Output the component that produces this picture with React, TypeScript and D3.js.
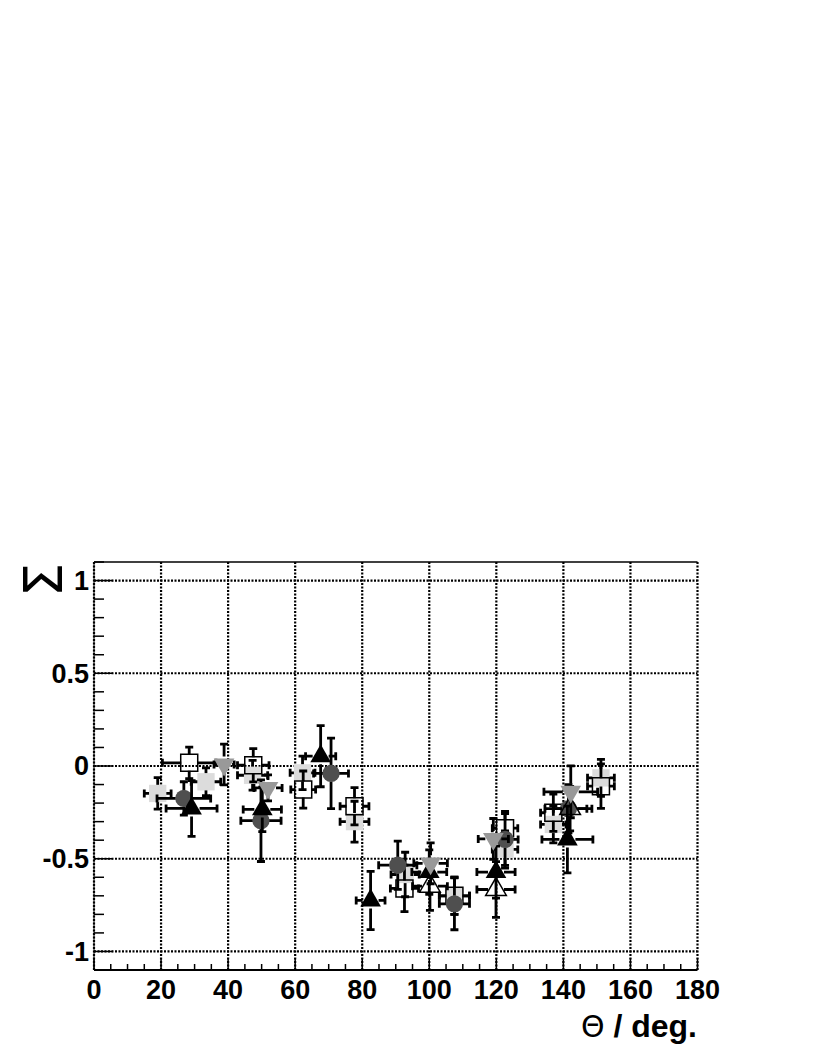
import React from "react";
import * as d3 from "d3";

// data: angle (deg), value, x error (deg), y error
const openSquareAngle = [28.4, 47.5, 62.4, 77.7, 92.6, 107.5, 122.6, 137.0, 151.2];
const openSquareValue = [0.017, 0.004, -0.127, -0.217, -0.66, -0.7, -0.335, -0.252, -0.109];
const openSquareXErr = [8, 4.7, 3.7, 4.3, 4.2, 4.5, 3.8, 3.8, 4];
const openSquareYErr = [0.085, 0.09, 0.1, 0.1, 0.125, 0.1, 0.09, 0.1, 0.12];

const lightSquareAngle = [19.0, 33.4, 47.3, 62.2, 77.7, 92.8, 107.5, 122.6, 137.0, 151.2];
const lightSquareValue = [-0.148, -0.085, -0.05, -0.037, -0.3, -0.585, -0.7, -0.45, -0.315, -0.064];
const lightSquareXErr = [4, 4.4, 4.5, 3.7, 4.3, 4.2, 4.5, 3.8, 3.8, 4];
const lightSquareYErr = [0.085, 0.075, 0.08, 0.09, 0.11, 0.12, 0.1, 0.1, 0.1, 0.1];

const circleAngle = [26.8, 49.8, 70.7, 90.6, 107.5, 122.6, 141.5];
const circleValue = [-0.175, -0.295, -0.04, -0.535, -0.743, -0.396, -0.23];
const circleXErr = [8, 6, 5.2, 5.7, 4.5, 3.9, 7];
const circleYErr = [0.09, 0.22, 0.19, 0.13, 0.14, 0.14, 0.13];

const triAngle = [29.1, 50.2, 67.6, 82.5, 100.0, 119.9, 141.2];
const triValue = [-0.229, -0.234, 0.053, -0.725, -0.572, -0.572, -0.396];
const triXErr = [7.6, 5.7, 4.5, 4.3, 5.2, 5.7, 7.6];
const triYErr = [0.15, 0.12, 0.165, 0.157, 0.12, 0.14, 0.18];

const openTriAngle = [100.2, 119.9, 142.0];
const openTriValue = [-0.648, -0.666, -0.23];
const openTriXErr = [5.2, 5.7, 5];
const openTriYErr = [0.13, 0.15, 0.12];

const invTriAngle = [38.8, 51.9, 100.4, 119.1, 142.2];
const invTriValue = [0.008, -0.118, -0.525, -0.393, -0.139];
const invTriXErr = [3, 4.2, 5, 4.5, 8];
const invTriYErr = [0.11, 0.07, 0.11, 0.11, 0.14];

const xTicks = [0, 20, 40, 60, 80, 100, 120, 140, 160, 180];
const yTicks = [-1, -0.5, 0, 0.5, 1];
const yTickLabels = ["-1", "-0.5", "0", "0.5", "1"];

const W = 814;
const H = 1053;
const left = 94, right = 697.5, top = 562, bottom = 970;

const x = d3.scaleLinear().domain([0, 180]).range([left, right]);
const y = d3.scaleLinear().domain([-1.1, 1.1]).range([bottom, top]);

const font = "'Liberation Sans', Arial, Helvetica, sans-serif";

type Series = {
  a: number[]; v: number[]; ex: number[]; ey: number[];
  shape: d3.SymbolType; size: number; fill: string; stroke: string; rot?: number;
};

const series: Series[] = [
  { a: lightSquareAngle, v: lightSquareValue, ex: lightSquareXErr, ey: lightSquareYErr, shape: d3.symbolSquare, size: 300, fill: "#dcdcdc", stroke: "none" },
  { a: openSquareAngle, v: openSquareValue, ex: openSquareXErr, ey: openSquareYErr, shape: d3.symbolSquare, size: 289, fill: "none", stroke: "#000" },
  { a: circleAngle, v: circleValue, ex: circleXErr, ey: circleYErr, shape: d3.symbolCircle, size: 235, fill: "#4f4f4f", stroke: "none" },
  { a: triAngle, v: triValue, ex: triXErr, ey: triYErr, shape: d3.symbolTriangle, size: 185, fill: "#000", stroke: "none" },
  { a: openTriAngle, v: openTriValue, ex: openTriXErr, ey: openTriYErr, shape: d3.symbolTriangle, size: 185, fill: "none", stroke: "#000" },
  { a: invTriAngle, v: invTriValue, ex: invTriXErr, ey: invTriYErr, shape: d3.symbolTriangle, size: 185, fill: "#999", stroke: "none", rot: 180 },
];

const gap = 8;
const cap = 4;

function ErrorBars({ s }: { s: Series }) {
  const segs: JSX.Element[] = [];
  s.a.forEach((a, i) => {
    const cx = x(a), cy = y(s.v[i]);
    const x0 = x(a - s.ex[i]), x1 = x(a + s.ex[i]);
    const y0 = y(s.v[i] + s.ey[i]), y1 = y(s.v[i] - s.ey[i]);
    const d: string[] = [];
    if (cx - x0 > gap) d.push(`M${cx - gap},${cy}H${x0}M${x0},${cy - cap}V${cy + cap}`);
    if (x1 - cx > gap) d.push(`M${cx + gap},${cy}H${x1}M${x1},${cy - cap}V${cy + cap}`);
    if (cy - y0 > gap) d.push(`M${cx},${cy - gap}V${y0}M${cx - cap},${y0}H${cx + cap}`);
    if (y1 - cy > gap) d.push(`M${cx},${cy + gap}V${y1}M${cx - cap},${y1}H${cx + cap}`);
    segs.push(<path key={i} d={d.join("")} stroke="#000" strokeWidth={2.8} fill="none" />);
  });
  return <g>{segs}</g>;
}

function Markers({ s }: { s: Series }) {
  const p = d3.symbol().type(s.shape).size(s.size)() || "";
  return (
    <g>
      {s.a.map((a, i) => (
        <path
          key={i}
          d={p}
          transform={`translate(${x(a)},${y(s.v[i])})${s.rot ? ` rotate(${s.rot})` : ""}`}
          fill={s.fill}
          stroke={s.stroke}
          strokeWidth={1.5}
        />
      ))}
    </g>
  );
}

export default function App() {
  const xMinor = d3.range(0, 181, 5);
  const yMinor = d3.range(-11, 12).map((k) => k / 10);
  return (
    <svg width={W} height={H} style={{ position: "absolute", left: 0, top: 0, background: "#fff" }}>
      <rect x={0} y={0} width={W} height={H} fill="#fff" />
      {/* grid */}
      <g stroke="#000" strokeWidth={2.2} strokeDasharray="2,1.5">
        {xTicks.map((t) => (
          <line key={"gx" + t} x1={x(t)} x2={x(t)} y1={top} y2={bottom} />
        ))}
        {yTicks.map((t) => (
          <line key={"gy" + t} x1={left} x2={right} y1={y(t)} y2={y(t)} />
        ))}
      </g>
      {/* frame */}
      <line x1={left} x2={right} y1={top} y2={top} stroke="#000" strokeWidth={1.5} />
      <line x1={left} x2={right} y1={bottom} y2={bottom} stroke="#000" strokeWidth={2} />
      <line x1={left} x2={left} y1={top} y2={bottom} stroke="#000" strokeWidth={1} />
      {/* ticks */}
      <g stroke="#000" strokeWidth={1.5}>
        {xMinor.map((t) => (
          <line key={"tx" + t} x1={x(t)} x2={x(t)} y1={bottom} y2={bottom - (t % 20 === 0 ? 12 : 6)} />
        ))}
        {yMinor.map((t) => (
          <line key={"ty" + t} x1={left} x2={left + (Math.abs((t * 10) % 5) < 0.01 ? 19 : 10)} y1={y(t)} y2={y(t)} />
        ))}
      </g>
      {/* tick labels */}
      <g fontFamily={font} fontWeight="bold" fontSize={27} fill="#000">
        {xTicks.map((t) => (
          <text key={"lx" + t} x={x(t)} y={999} textAnchor="middle">{t}</text>
        ))}
        {yTicks.map((t, i) => (
          <text key={"ly" + t} x={89} y={y(t)} dy="0.35em" textAnchor="end">{yTickLabels[i]}</text>
        ))}
      </g>
      {/* titles */}
      <text x={697} y={1037} textAnchor="end" fontFamily={font} fontWeight="bold" fontSize={32}>
        <tspan fontWeight="normal" fontSize={30} fontFamily="'DejaVu Sans', sans-serif">Θ</tspan> / deg.
      </text>
      <text transform="translate(62,580) rotate(-90)" textAnchor="middle" fontFamily="'DejaVu Sans', sans-serif" fontSize={54}>
        Σ
      </text>
      {/* data */}
      {series.map((s, i) => (
        <g key={i}>
          <ErrorBars s={s} />
          <Markers s={s} />
        </g>
      ))}
    </svg>
  );
}
